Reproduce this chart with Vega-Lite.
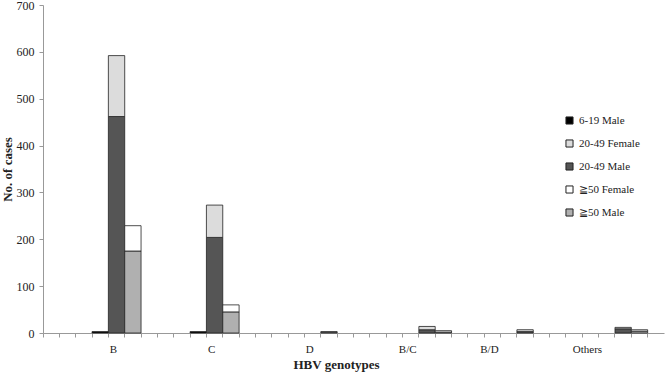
{
  "$schema": "https://vega.github.io/schema/vega-lite/v6.json",
  "width": 621,
  "height": 328,
  "autosize": {"type": "none"},
  "padding": {"left": 43, "top": 5, "right": 2, "bottom": 44},
  "background": "white",
  "config": {"view": {"stroke": null}, "font": "Liberation Serif"},
  "data": {
    "values": [
      {"genotype": "B", "slot": "B 6-19", "series": "6-19 Male", "sex": "Male", "count": 3},
      {"genotype": "B", "slot": "B 20-49", "series": "20-49 Male", "sex": "Male", "count": 462},
      {"genotype": "B", "slot": "B 20-49", "series": "20-49 Female", "sex": "Female", "count": 130},
      {"genotype": "B", "slot": "B ≧50", "series": "≧50 Male", "sex": "Male", "count": 175},
      {"genotype": "B", "slot": "B ≧50", "series": "≧50 Female", "sex": "Female", "count": 54},
      {"genotype": "C", "slot": "C 6-19", "series": "6-19 Male", "sex": "Male", "count": 3},
      {"genotype": "C", "slot": "C 20-49", "series": "20-49 Male", "sex": "Male", "count": 204},
      {"genotype": "C", "slot": "C 20-49", "series": "20-49 Female", "sex": "Female", "count": 69},
      {"genotype": "C", "slot": "C ≧50", "series": "≧50 Male", "sex": "Male", "count": 45},
      {"genotype": "C", "slot": "C ≧50", "series": "≧50 Female", "sex": "Female", "count": 15},
      {"genotype": "D", "slot": "D 20-49", "series": "20-49 Male", "sex": "Male", "count": 3},
      {"genotype": "B/C", "slot": "B/C 20-49", "series": "20-49 Male", "sex": "Male", "count": 7},
      {"genotype": "B/C", "slot": "B/C 20-49", "series": "20-49 Female", "sex": "Female", "count": 7},
      {"genotype": "B/C", "slot": "B/C ≧50", "series": "≧50 Male", "sex": "Male", "count": 2},
      {"genotype": "B/C", "slot": "B/C ≧50", "series": "≧50 Female", "sex": "Female", "count": 3},
      {"genotype": "B/D", "slot": "B/D 20-49", "series": "20-49 Male", "sex": "Male", "count": 3},
      {"genotype": "B/D", "slot": "B/D 20-49", "series": "20-49 Female", "sex": "Female", "count": 4},
      {"genotype": "Others", "slot": "Others 20-49", "series": "20-49 Male", "sex": "Male", "count": 9},
      {"genotype": "Others", "slot": "Others 20-49", "series": "20-49 Female", "sex": "Female", "count": 3},
      {"genotype": "Others", "slot": "Others ≧50", "series": "≧50 Male", "sex": "Male", "count": 4},
      {"genotype": "Others", "slot": "Others ≧50", "series": "≧50 Female", "sex": "Female", "count": 3}
    ]
  },
  "mark": {"type": "bar", "stroke": "#222", "strokeWidth": 0.8},
  "encoding": {
    "x": {
      "field": "slot",
      "type": "ordinal",
      "scale": {
        "domain": ["·-3","·-2","·-1","B 6-19","B 20-49","B ≧50","·3","·4","·5","C 6-19","C 20-49","C ≧50","·9","·10","·11","·12","D 6-19","D 20-49","D ≧50","·16","·17","·18","B/C 6-19","B/C 20-49","B/C ≧50","·22","·23","·24","B/D 6-19","B/D 20-49","B/D ≧50","·28","·29","·30","Others 6-19","Others 20-49","Others ≧50","·34"],
        "paddingInner": 0,
        "paddingOuter": 0
      },
      "axis": {
        "title": "HBV genotypes",
        "bandPosition": 0,
        "labelOffset": -3,
        "labelAngle": 0,
        "labelExpr": "datum.value == 'B 20-49' ? 'B' : datum.value == 'C 20-49' ? 'C' : datum.value == 'D 6-19' ? 'D' : datum.value == 'B/C 6-19' ? 'B/C' : datum.value == '·24' ? 'B/D' : datum.value == '·30' ? 'Others' : ''",
        "labelOverlap": false,
        "labelBound": false,
        "tickSize": 4,
        "tickColor": "#999",
        "domainColor": "#999",
        "labelPadding": 6,
        "labelFontSize": 11,
        "labelFont": "Liberation Serif",
        "labelColor": "#222",
        "titleFont": "Liberation Serif",
        "titleFontSize": 13,
        "titleFontWeight": "bold",
        "titleColor": "#222",
        "titlePadding": 4,
        "titleX": 293
      }
    },
    "y": {
      "field": "count",
      "type": "quantitative",
      "stack": "zero",
      "scale": {"domain": [0, 700], "nice": false},
      "axis": {
        "title": "No. of cases",
        "values": [0, 100, 200, 300, 400, 500, 600, 700],
        "grid": false,
        "tickSize": 4,
        "tickColor": "#999",
        "domainColor": "#999",
        "labelFontSize": 12,
        "labelFont": "Liberation Serif",
        "labelColor": "#222",
        "labelPadding": 5,
        "titleFont": "Liberation Serif",
        "titleFontSize": 13,
        "titleFontWeight": "bold",
        "titleColor": "#222",
        "titlePadding": 2
      }
    },
    "color": {
      "field": "series",
      "type": "nominal",
      "scale": {
        "domain": ["6-19 Male", "20-49 Female", "20-49 Male", "≧50 Female", "≧50 Male"],
        "range": ["#000000", "#dcdcdc", "#555555", "#ffffff", "#b0b0b0"]
      },
      "legend": {
        "title": null,
        "orient": "none",
        "legendX": 521,
        "legendY": 110,
        "symbolType": "square",
        "symbolSize": 50,
        "symbolStrokeColor": "#222",
        "symbolStrokeWidth": 1,
        "symbolOpacity": 1,
        "labelFontSize": 11,
        "labelFont": "Liberation Serif",
        "labelColor": "#222",
        "rowPadding": 10,
        "labelOffset": 4
      }
    },
    "order": {"field": "sex", "sort": "descending"}
  }
}
